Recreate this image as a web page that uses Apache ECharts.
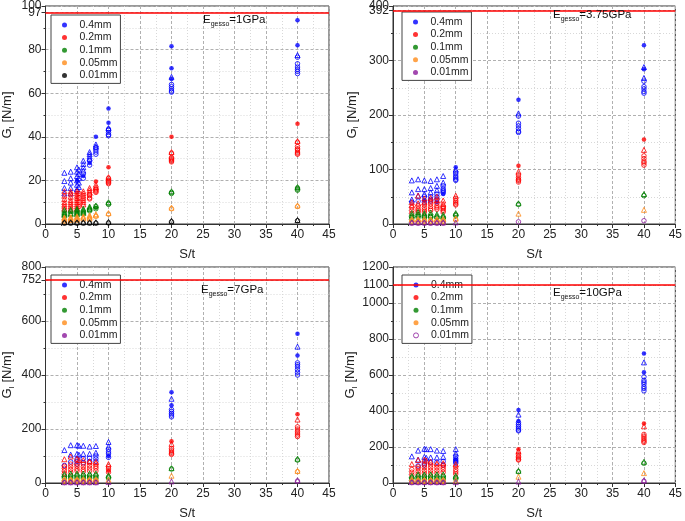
<!DOCTYPE html>
<html><head><meta charset="utf-8">
<script src="https://cdn.jsdelivr.net/npm/echarts@6/dist/echarts.min.js"></script>
<style>html,body{margin:0;padding:0;background:#fff}#c{width:685px;height:521px}</style>
</head><body><div id="c"></div>
<script>
// ---------- tick / axis values ----------
const thicknessNames = ['0.4mm','0.2mm','0.1mm','0.05mm','0.01mm'];
const moduli = ['1GPa','3.75GPa','7GPa','10GPa'];
const limits = [97, 392, 752, 1100];
const yMax = [100, 400, 800, 1200];
const yMajor = [20, 100, 200, 200];
const yLabels1 = [0,20,40,60,80,100];
const yLabels2 = [0,100,200,300,400];
const yLabels3 = [0,200,400,600,800];
const yLabels4 = [0,200,400,600,800,1000,1200];
const xLabels = [0,5,10,15,20,25,30,35,40,45];

// ---------- Panel 1 : E = 1 GPa ----------
const p1_04_fill = [[5,20],[6,22],[7,28],[8,40],[10,53],[10,46.5],[20,81.5],[20,71.5],[20,66.5],[40,93.5],[40,82]];
const p1_04_tri = [[3,23.5],[3,19.7],[3,16.5],[3,14],[4,24],[4,21],[4,19],[4,16.5],[4,14],[5,26],[5,24],[5,22],[5,20],[5,18],[5,16],[5.3,25],[5.3,23],[5.3,21],[5.3,19],[5.3,17],[6,29],[6,27.5],[6,26],[6,24.5],[7,33],[7,32],[7,31],[7,30],[8,36.5],[8,35.5],[10,44],[20,67.5],[40,77.5]];
const p1_04_circ = [[5,15],[6,23],[6,21],[7,29],[7,27],[8,35],[8,34],[8,33],[8,32],[10,43.5],[10,43],[10,42],[10,41],[10,40.5],[20,64],[20,63],[20,62],[20,61],[20,60.5],[40,76.5],[40,73.5],[40,72],[40,71],[40,70],[40,69]];
const p1_02_fill = [[8,19.5],[10,26],[20,40],[40,46]];
const p1_02_tri = [[3,15],[3,13],[3,11.5],[3,10],[3,9],[3,8],[3,7],[4,15],[4,14],[4,12.5],[4,11],[4,10],[4,9],[4,8],[4,7],[5,15],[5,14],[5,13],[5,12],[5,11],[5,10],[5,9],[5,8],[5,7],[6,15],[6,14],[6,13],[6,12],[6,11],[6,10],[6,9],[7,16.5],[7,15.5],[7,14.5],[8,18],[8,17],[10,21.5],[20,33],[40,38]];
const p1_02_circ = [[5.3,14],[5.3,12],[5.3,10],[5.3,8],[7,13.5],[7,13],[7,12],[7,11.5],[8,16],[8,15.5],[8,15],[8,14.5],[10,21],[10,20],[10,19.5],[10,19],[10,18.5],[20,32.5],[20,30.5],[20,30],[20,29.5],[20,29],[20,28.5],[40,37.5],[40,35.5],[40,34.5],[40,34],[40,33],[40,32.5],[40,32]];
const p1_01_fill = [[8,7.5]];
const p1_01_tri = [[3,6.5],[3,5.5],[3,5],[3,4.5],[3,4],[4,6.5],[4,6],[4,5],[4,4.5],[5,7],[5,6.5],[5,6],[5,5.5],[5,5],[5,4.5],[6,7],[6,6.5],[6,6],[6,5.5],[6,5],[7,8],[7,7.5],[7,7],[8,8.5],[10,10],[20,15],[40,17]];
const p1_01_circ = [[7,6.5],[7,6],[8,8],[8,7],[10,9.5],[10,9],[20,14.5],[20,14],[40,16.5],[40,16],[40,15.5]];
const p1_005_fill = [];
const p1_005_tri = [[3,3],[3,2.5],[3,2],[3,1.5],[4,3.2],[4,2.8],[4,2.2],[4,1.8],[5,3.5],[5,3],[5,2.5],[5,2],[6,3.5],[6,3],[6,2.5],[7,4],[7,3.5],[7,3],[7,2.5],[8,4.5],[8,4],[10,5],[20,7.5],[40,8.5]];
const p1_005_circ = [[8,3.5],[10,4.5],[20,7],[40,8]];
const p1_001_fill = [];
const p1_001_tri = [[3,0.8],[4,0.8],[5,0.8],[6,0.8],[7,0.8],[8,0.8],[10,1],[20,1.5],[40,1.8]];
const p1_001_circ = [[3,0.4],[4,0.4],[5,0.4],[6,0.4],[7,0.4],[8,0.4],[10,0.5],[20,1],[40,1.5]];

// ---------- Panel 2 : E = 3.75 GPa ----------
const p2_04_fill = [[5,43],[7,40],[8,55],[10,104],[20,228],[40,328],[40,284]];
const p2_04_tri = [[3,80],[3,58],[3,45],[4,82],[4,64],[4,52],[5,80],[5,64],[5,55],[6,79],[6,66],[6,58],[7,82],[7,70],[7,62],[8,88],[8,76],[10,100],[20,203],[40,288],[40,268]];
const p2_04_circ = [[3,40],[4,42],[5,50],[5,40],[6,50],[6,45],[6,42],[7,55],[7,50],[7,45],[8,70],[8,65],[8,62],[8,60],[8,57],[10,95],[10,92],[10,88],[10,85],[10,82],[10,80],[20,198],[20,185],[20,180],[20,175],[20,170],[20,168],[40,262],[40,252],[40,248],[40,243],[40,240]];
const p2_02_fill = [[20,107],[40,155]];
const p2_02_tri = [[3,40],[3,35],[4,52],[4,38],[5,47],[5,40],[6,48],[6,43],[7,50],[7,44],[8,43],[8,37],[10,52],[20,96],[40,136]];
const p2_02_circ = [[3,30],[3,25],[3,20],[4,33],[4,28],[4,25],[4,22],[5,35],[5,30],[5,26],[5,22],[6,37],[6,32],[6,28],[6,25],[7,38],[7,33],[7,30],[7,27],[8,32],[8,30],[8,28],[8,25],[8,22],[10,47],[10,43],[10,40],[10,37],[10,35],[20,90],[20,85],[20,82],[20,80],[20,77],[40,125],[40,120],[40,115],[40,112],[40,108]];
const p2_01_fill = [];
const p2_01_tri = [[3,20],[3,16],[4,22],[4,18],[5,20],[5,17],[6,21],[6,17],[7,18],[7,15],[8,17],[8,14],[10,20],[20,38],[40,55]];
const p2_01_circ = [[3,13],[3,10],[4,15],[4,12],[5,14],[5,11],[6,14],[6,12],[7,12],[8,11],[10,17],[10,15],[20,36],[40,52]];
const p2_005_fill = [];
const p2_005_tri = [[3,9],[4,9],[5,9],[6,9],[7,9],[8,9],[10,10],[20,19],[40,26]];
const p2_005_circ = [[3,6],[3,4],[4,6],[4,4],[5,6],[5,4],[6,6],[6,4],[7,6],[7,4],[8,6],[8,4],[10,8]];
const p2_001_fill = [];
const p2_001_tri = [[3,3],[4,3],[5,3],[6,3],[7,3],[8,3],[10,3]];
const p2_001_circ = [[3,1.5],[4,1.5],[5,1.5],[6,1.5],[7,1.5],[8,1.5],[20,4],[40,6]];

// ---------- Panel 3 : E = 7 GPa ----------
const p3_04_fill = [[10,100],[20,336],[20,288],[40,553],[40,472]];
const p3_04_tri = [[3,122],[4,140],[4,105],[5,140],[5.3,138],[5,108],[5.3,105],[6,138],[6,108],[7,135],[7,108],[8,137],[8,112],[10,152],[10,135],[20,312],[40,505]];
const p3_04_circ = [[3,65],[4,78],[5,88],[5,80],[5,70],[6,90],[6,75],[7,92],[7,80],[8,100],[8,90],[8,80],[10,125],[10,115],[10,108],[10,95],[20,272],[20,265],[20,258],[20,252],[20,245],[40,445],[40,438],[40,430],[40,420],[40,410],[40,400]];
const p3_02_fill = [[10,45],[20,155],[40,255]];
const p3_02_tri = [[3,88],[4,98],[5,90],[5.3,85],[6,85],[7,80],[8,78],[10,70],[20,145],[40,235]];
const p3_02_circ = [[3,62],[3,55],[3,45],[3,35],[4,70],[4,60],[4,50],[4,40],[5,70],[5,62],[5,52],[5,45],[6,70],[6,60],[6,50],[6,42],[7,75],[7,65],[7,55],[7,45],[8,70],[8,62],[8,55],[8,45],[10,60],[10,52],[10,40],[20,128],[20,122],[20,115],[20,110],[20,106],[40,208],[40,200],[40,192],[40,185],[40,178],[40,172]];
const p3_01_fill = [];
const p3_01_tri = [[3,33],[4,35],[5,35],[6,35],[7,35],[8,35],[10,28],[20,55],[40,90]];
const p3_01_circ = [[3,25],[3,18],[4,28],[4,22],[4,17],[5,28],[5,22],[5,17],[6,28],[6,22],[6,17],[7,28],[7,22],[7,17],[8,28],[8,22],[8,17],[10,22],[10,18],[20,52],[40,85]];
const p3_005_fill = [];
const p3_005_tri = [[3,14],[4,14],[5,14],[6,14],[7,14],[8,14],[10,12],[20,27],[40,45]];
const p3_005_circ = [[3,10],[3,6],[4,10],[4,6],[5,10],[5,6],[6,10],[6,6],[7,10],[7,6],[8,10],[8,6],[40,42]];
const p3_001_fill = [];
const p3_001_tri = [[3,3],[4,3],[5,3],[6,3],[7,3],[8,3],[10,4],[20,6],[40,10]];
const p3_001_circ = [[3,1.5],[4,1.5],[5,1.5],[6,1.5],[7,1.5],[8,1.5],[40,7]];

// ---------- Panel 4 : E = 10 GPa ----------
const p4_04_fill = [[10,130],[20,405],[20,345],[40,720],[40,615]];
const p4_04_tri = [[3,148],[4,180],[4,130],[5,190],[5.3,188],[5,145],[5.3,140],[6,188],[6,142],[7,180],[7,142],[8,178],[8,145],[10,188],[10,165],[20,380],[40,670]];
const p4_04_circ = [[4,95],[5,110],[5,100],[6,115],[7,115],[8,120],[8,100],[10,148],[10,135],[10,125],[10,118],[10,110],[20,335],[20,325],[20,315],[20,305],[20,295],[20,290],[40,590],[40,570],[40,560],[40,550],[40,535],[40,525],[40,512]];
const p4_02_fill = [[20,188],[40,330]];
const p4_02_tri = [[3,105],[4,128],[5,130],[5.3,125],[6,118],[7,110],[8,110],[10,105],[20,178],[40,315]];
const p4_02_circ = [[3,75],[3,60],[3,45],[4,90],[4,80],[4,65],[4,50],[5,100],[5,85],[5,70],[5,55],[6,100],[6,85],[6,70],[6,55],[7,100],[7,85],[7,70],[7,55],[8,100],[8,88],[8,75],[8,60],[10,90],[10,75],[10,62],[10,50],[20,160],[20,148],[20,140],[20,132],[20,128],[40,270],[40,260],[40,250],[40,240],[40,232],[40,225]];
const p4_01_fill = [];
const p4_01_tri = [[3,40],[4,48],[5,48],[6,48],[7,48],[8,48],[10,40],[20,68],[40,118]];
const p4_01_circ = [[3,30],[3,22],[4,38],[4,28],[4,20],[5,38],[5,28],[5,20],[6,38],[6,28],[6,20],[7,38],[7,28],[7,20],[8,38],[8,28],[8,20],[10,30],[10,22],[20,62],[40,110]];
const p4_005_fill = [];
const p4_005_tri = [[3,18],[4,18],[5,18],[6,18],[7,18],[8,18],[10,15],[20,35],[40,55]];
const p4_005_circ = [[3,12],[3,8],[4,12],[4,8],[5,12],[5,8],[6,12],[6,8],[7,12],[7,8],[8,12],[8,8]];
const p4_001_fill = [];
const p4_001_tri = [[3,5],[4,5],[5,5],[6,5],[7,5],[8,5],[10,5],[20,8],[40,15]];
const p4_001_circ = [[3,2],[4,2],[5,2],[6,2],[7,2],[8,2],[40,10]];

// ---------- build ----------
const BLUE='#0000ff', RED='#ff0000', GREEN='#008000', ORANGE='#ff8c1a', BLACK='#000000', PURPLE='#8b1a9b';
const panelColors = [
  [BLUE,RED,GREEN,ORANGE,BLACK],
  [BLUE,RED,GREEN,ORANGE,PURPLE],
  [BLUE,RED,GREEN,ORANGE,PURPLE],
  [BLUE,RED,GREEN,ORANGE,PURPLE]
];
const panelData = [
  [[p1_04_fill,p1_04_tri,p1_04_circ],[p1_02_fill,p1_02_tri,p1_02_circ],[p1_01_fill,p1_01_tri,p1_01_circ],[p1_005_fill,p1_005_tri,p1_005_circ],[p1_001_fill,p1_001_tri,p1_001_circ]],
  [[p2_04_fill,p2_04_tri,p2_04_circ],[p2_02_fill,p2_02_tri,p2_02_circ],[p2_01_fill,p2_01_tri,p2_01_circ],[p2_005_fill,p2_005_tri,p2_005_circ],[p2_001_fill,p2_001_tri,p2_001_circ]],
  [[p3_04_fill,p3_04_tri,p3_04_circ],[p3_02_fill,p3_02_tri,p3_02_circ],[p3_01_fill,p3_01_tri,p3_01_circ],[p3_005_fill,p3_005_tri,p3_005_circ],[p3_001_fill,p3_001_tri,p3_001_circ]],
  [[p4_04_fill,p4_04_tri,p4_04_circ],[p4_02_fill,p4_02_tri,p4_02_circ],[p4_01_fill,p4_01_tri,p4_01_circ],[p4_005_fill,p4_005_tri,p4_005_circ],[p4_001_fill,p4_001_tri,p4_001_circ]]
];
const yLabelSets = [yLabels1,yLabels2,yLabels3,yLabels4];

const FONT = 'Liberation Sans, Arial, sans-serif';
const grids = [
  {left:42, top:5, width:287, height:219},
  {left:393, top:5, width:286, height:219},
  {left:42, top:267, width:287, height:219},
  {left:393, top:267, width:286, height:219}
];
const nameGaps = [30, 33, 30, 33];
const legendPos = [{left:51,top:15},{left:402,top:12},{left:51,top:275},{left:402,top:275}];
const annPos = [[203,22],[553,17],[201,292],[553,295]];

const option = {
  animation:false,
  backgroundColor:'#fff',
  textStyle:{fontFamily:FONT},
  grid: grids.map(g=>Object.assign({show:true, borderColor:'#333', borderWidth:1, containLabel:false}, g)),
  xAxis: grids.map((g,i)=>({
    type:'value', gridIndex:i, min:0, max:45, interval:5,
    name:'S/t', nameLocation:'middle', nameGap:24,
    nameTextStyle:{fontSize:13, color:'#222', fontFamily:FONT},
    axisLine:{show:true, lineStyle:{color:'#333', width:1}},
    axisTick:{show:true, length:4, lineStyle:{color:'#333'}},
    minorTick:{show:true, splitNumber:2, length:2, lineStyle:{color:'#333'}},
    axisLabel:{fontSize:12, color:'#222', margin:5, fontFamily:FONT, customValues:xLabels,
      showMaxLabel:true, showMinLabel:true, hideOverlap:false, formatter:v=>String(v)},
    splitLine:{show:true, lineStyle:{color:'#b0b0b0', type:[3,2], width:1}},
    minorSplitLine:{show:true, lineStyle:{color:'#d8d8d8', type:[1,2], width:1}}
  })),
  yAxis: grids.map((g,i)=>({
    type:'value', gridIndex:i, min:0, max:yMax[i], interval:yMajor[i],
    name:'{a|G}{b|I}{a| [N/m]}', nameLocation:'middle', nameGap:nameGaps[i], nameRotate:90,
    nameTextStyle:{color:'#222', fontFamily:FONT, rich:{
      a:{fontSize:13, lineHeight:16, color:'#222', fontFamily:FONT},
      b:{fontSize:8, lineHeight:8, verticalAlign:'bottom', color:'#222', fontFamily:FONT}
    }},
    axisLine:{show:true, lineStyle:{color:'#333', width:1}},
    axisTick:{show:true, length:4, lineStyle:{color:'#333'}, customValues:yLabelSets[i].concat([limits[i]])},
    minorTick:{show:true, splitNumber:2, length:2, lineStyle:{color:'#333'}},
    axisLabel:{fontSize:12, color:'#222', margin:4, fontFamily:FONT, customValues:yLabelSets[i],
      showMaxLabel:true, showMinLabel:true, hideOverlap:false, formatter:v=>String(v)},
    splitLine:{show:true, lineStyle:{color:'#b0b0b0', type:[3,2], width:1}},
    minorSplitLine:{show:true, lineStyle:{color:'#d8d8d8', type:[1,2], width:1}}
  })),
  legend: grids.map((g,i)=>({
    left:legendPos[i].left, top:legendPos[i].top, orient:'vertical',
    backgroundColor:'#fff', borderColor:'#444', borderWidth:1,
    padding:[4,3,2,11], itemGap:0.6, itemWidth:8, itemHeight:5,
    formatter:'{t|{name}}',
    textStyle:{fontSize:10.5, color:'#222', fontFamily:FONT, lineHeight:12,
      rich:{t:{fontSize:10.5, color:'#222', fontFamily:FONT, lineHeight:12, padding:[0,0,0,6]}}},
    selectedMode:false,
    data: thicknessNames.map((n,k)=>{
      const c = panelColors[i][k];
      if (i===3 && k===4) return {name:n, icon:'circle', itemStyle:{color:'#fff', borderColor:c, borderWidth:1}};
      return {name:n, icon:'circle', itemStyle:{color:c, borderWidth:0}};
    })
  })),
  graphic: moduli.map((m,i)=>({
    type:'text', left:annPos[i][0], top:annPos[i][1]-8, z:100,
    style:{
      text:'{a|E}{b|gesso}{a|='+m+'}',
      rich:{
        a:{fontSize:11.5, lineHeight:16, fill:'#111', fontFamily:FONT},
        b:{fontSize:7, lineHeight:8, verticalAlign:'bottom', fill:'#111', fontFamily:FONT}
      }
    }
  })),
  series: []
};

panelData.forEach((groups,i)=>{
  option.series.push({
    type:'scatter', name:'limit'+i, xAxisIndex:i, yAxisIndex:i, data:[], silent:true,
    markLine:{silent:true, symbol:'none', animation:false,
      label:{show:true, position:'start', distance:4, formatter:String(limits[i]), fontSize:12, color:'#222', fontFamily:FONT},
      lineStyle:{color:'#ff0000', width:1.5, type:'solid'}, data:[{yAxis:limits[i]}]}
  });
  groups.forEach((g,k)=>{
    const c = panelColors[i][k];
    const name = thicknessNames[k];
    const z = 10 + k;
    option.series.push({
      type:'scatter', name, xAxisIndex:i, yAxisIndex:i, data:g[2], z,
      symbol:'circle', symbolSize:4.5,
      itemStyle:{color:'rgba(255,255,255,0)', borderColor:c, borderWidth:1}
    });
    option.series.push({
      type:'scatter', name, xAxisIndex:i, yAxisIndex:i, data:g[1], z,
      symbol:'triangle', symbolSize:5,
      itemStyle:{color:'rgba(255,255,255,0)', borderColor:c, borderWidth:1}
    });
    option.series.push({
      type:'scatter', name, xAxisIndex:i, yAxisIndex:i, data:g[0], z,
      symbol:'circle', symbolSize:4.5,
      itemStyle:{color:c, borderWidth:0}
    });
  });
});

const chart = echarts.init(document.getElementById('c'), null, {renderer:'canvas'});
chart.setOption(option);
</script>
</body></html>
